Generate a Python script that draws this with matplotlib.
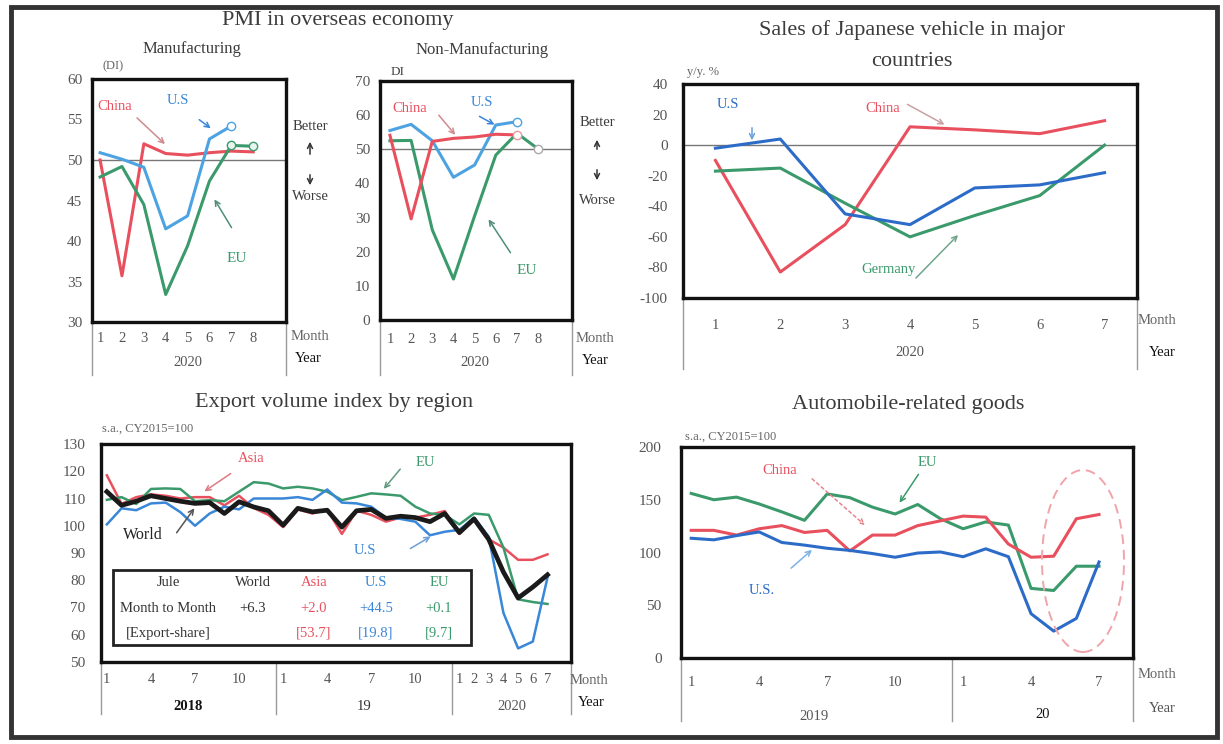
import numpy as np
import matplotlib.pyplot as plt
from matplotlib.patches import Ellipse, FancyArrowPatch, Rectangle
from matplotlib.transforms import blended_transform_factory

plt.rcParams['font.family'] = ['Liberation Serif', 'DejaVu Serif']
plt.rcParams['axes.unicode_minus'] = False

W, H = 1223, 744

RED = '#e8505e'
BLUE = '#3a86d8'
DBLUE = '#2c6cc8'
GREEN = '#3b9a6b'
TXT = '#3c3c3c'
TICK = '#555555'

# ---- PMI (2020) ----
pmi_months = [1, 2, 3, 4, 5, 6, 7, 8]
mfg_china = [50.0, 35.7, 52.0, 50.8, 50.6, 50.9, 51.1, 51.0]
mfg_us = [50.9, 50.1, 49.1, 41.5, 43.1, 52.6, 54.2]
mfg_eu = [47.9, 49.2, 44.5, 33.4, 39.4, 47.4, 51.8, 51.7]
nonmfg_china = [54.1, 29.6, 52.3, 53.2, 53.6, 54.4, 54.2]
nonmfg_us = [55.5, 57.3, 52.5, 41.8, 45.4, 57.1, 58.1]
nonmfg_eu = [52.5, 52.6, 26.4, 12.0, 30.5, 48.3, 54.7, 50.1]

# ---- Sales of Japanese vehicles, y/y % (2020) ----
sales_months = [1, 2, 3, 4, 5, 6, 7]
sales_us = [-2, 4, -45, -52, -28, -26, -18]
sales_china = [-10, -83, -52, 12, 10, 7.5, 16]
sales_germany = [-17, -15, -38, -60, -46, -33, 0]

# ---- Export volume index by region, Jan 2018 - Jul 2020 ----
export_month_labels = ['1', '', '', '4', '', '', '7', '', '', '10', '', '',
                       '1', '', '', '4', '', '', '7', '', '', '10', '', '',
                       '1', '2', '3', '4', '5', '6', '7']
export_world = [112.5, 107.5, 109, 111, 110, 109, 108.2, 108.5, 104.5, 108.8, 106.9, 105.5,
                100.2, 106.4, 105.1, 105.7, 99.5, 105.5, 106, 102.7, 103.5, 103, 101.5, 104.5,
                97.5, 102.5, 95, 83, 73.5, 77.5, 82]
export_asia = [118.5, 108, 110.5, 111.5, 111, 110, 110.5, 110.5, 107.5, 111, 106.5, 104,
               99.5, 106, 104.5, 106, 97, 105.5, 104, 101.5, 103, 103, 104, 105.4,
               97, 102.5, 95, 92, 87.5, 87.5, 89.5]
export_us = [100.5, 106.4, 105.7, 108.2, 108.5, 105, 100, 104.5, 107, 106, 110, 110,
             110, 110.5, 109.5, 113.3, 108.5, 108.2, 107, 103, 102.5, 101.5, 96.5, 97.8,
             98.5, 103, 96, 68, 55, 57.5, 81]
export_eu = [109.5, 110.5, 108, 113.5, 113.7, 113.5, 109, 109.4, 109, 112.5, 116, 115.5,
             113.7, 114.3, 113.7, 112.5, 109.4, 110.6, 111.9, 111.5, 111, 107, 104.5, 104,
             100.5, 104.5, 104, 92, 73, 72, 71.3]

table_cols = ['Jule', 'World', 'Asia', 'U.S', 'EU']
table_mom = ['Month to Month', '+6.3', '+2.0', '+44.5', '+0.1']
table_share = ['[Export-share]', '', '[53.7]', '[19.8]', '[9.7]']

# ---- Automobile-related goods, Jan 2019 - Jul 2020 ----
auto_month_labels = ['1', '', '', '4', '', '', '7', '', '', '10', '', '',
                     '1', '', '', '4', '', '', '7']
auto_us = [113.5, 112, 116, 119.5, 109.5, 107, 104, 102, 99, 95.5, 99.5, 100.5,
           96, 103.5, 96, 42, 25.5, 37.5, 91]
auto_china = [121, 121, 116.5, 122.5, 125.5, 119, 121, 101.5, 116.5, 116.5, 125.5, 130,
              134.5, 133.5, 108, 95.5, 96.5, 132, 136]
auto_eu = [156, 150, 152.5, 146, 138.5, 130.5, 155.5, 152, 143, 136.5, 145.5, 132,
           122.5, 129, 126, 66, 64, 87, 87]

fig = plt.figure(figsize=(W / 100, H / 100), dpi=100)


def px_axes(x0, y0, x1, y1):
    return fig.add_axes([x0 / W, 1 - y1 / H, (x1 - x0) / W, (y1 - y0) / H])


def ftext(x, y, s, **kw):
    kw.setdefault('ha', 'center')
    kw.setdefault('va', 'center')
    kw.setdefault('color', TXT)
    fig.text(x / W, 1 - y / H, s, **kw)


def farrow(x0, y0, x1, y1, color, ls='-'):
    fig.add_artist(FancyArrowPatch((x0 / W, 1 - y0 / H), (x1 / W, 1 - y1 / H),
                                   transform=fig.transFigure, arrowstyle='->',
                                   mutation_scale=9, color=color, lw=1.1, linestyle=ls))


def frame(ax, xlim, ylim, yticks, xticks, xlabels, seps, drop, ypad=7, xpad=6):
    ax.set_xlim(*xlim)
    ax.set_ylim(*ylim)
    ax.set_yticks(yticks)
    ax.set_xticks(xticks)
    ax.set_xticklabels(xlabels)
    for sp in ax.spines.values():
        sp.set_linewidth(2.4)
        sp.set_color('#111111')
    ax.tick_params(axis='y', length=0, pad=ypad, labelsize=11, labelcolor=TICK)
    ax.tick_params(axis='x', length=0, pad=xpad, labelsize=10.5, labelcolor=TICK)
    tr = blended_transform_factory(ax.transData, ax.transAxes)
    for s in list(seps) + list(xlim):
        ax.plot([s, s], [0, -drop], transform=tr, color='#999999', lw=1, clip_on=False)


# outer border
fig.add_artist(Rectangle((11 / W, 1 - 737 / H), 1206 / W, 730 / H, transform=fig.transFigure,
                         fill=False, lw=3.5, ec='#333333'))

# ================= PMI manufacturing =================
ax1 = px_axes(92, 79, 286, 322)
frame(ax1, (0.63, 9.5), (30, 60), range(30, 61, 5), pmi_months, [str(m) for m in pmi_months],
      [], 0.22, xpad=7)
ax1.axhline(50, color='#777777', lw=1)
ax1.plot(pmi_months, mfg_china, color=RED, lw=2.2)
ax1.plot(pmi_months[:len(mfg_us)], mfg_us, color='#4da3e2', lw=2.2, marker='o', markevery=[6],
         mfc='white', ms=6)
ax1.plot(pmi_months, mfg_eu, color=GREEN, lw=2.2, marker='o', markevery=[6, 7], mfc='#e8f4ee', ms=6)

ftext(338, 21, 'PMI in overseas economy', fontsize=16)
ftext(192, 49, 'Manufacturing', fontsize=12)
ftext(113, 66, '(DI)', fontsize=9, color='#666666')
ftext(115, 107, 'China', fontsize=10.5, color=RED)
farrow(135, 116, 167, 146, '#d08a8f')
ftext(178, 101, 'U.S', fontsize=10.5, color=BLUE)
farrow(197, 118, 213, 130, BLUE)
ftext(237, 258, 'EU', fontsize=11, color=GREEN)
farrow(233, 230, 213, 197, '#4f8f76')
ftext(310, 127, 'Better', fontsize=10.5)
farrow(310, 157, 310, 139, '#333333')
farrow(310, 172, 310, 188, '#333333')
ftext(310, 197, 'Worse', fontsize=10.5)
ftext(310, 336, 'Month', fontsize=10.5, color='#666666')
ftext(308, 358, 'Year', fontsize=10.5, color='#111111')
ftext(188, 362, '2020', fontsize=10.5, color='#555555')

# ================= PMI non-manufacturing =================
ax2 = px_axes(380, 81, 572, 320)
frame(ax2, (0.53, 9.6), (0, 70), range(0, 71, 10), pmi_months, [str(m) for m in pmi_months],
      [], 0.23, xpad=9)
ax2.axhline(50, color='#777777', lw=1)
ax2.plot(pmi_months[:len(nonmfg_us)], nonmfg_us, color='#4da3e2', lw=2.2, marker='o',
         markevery=[6], mfc='white', ms=6)
ax2.plot(pmi_months, nonmfg_eu, color=GREEN, lw=2.2, marker='o', markevery=[7],
         mfc='white', mec='#aaaaaa', ms=6)
ax2.plot(pmi_months[:len(nonmfg_china)], nonmfg_china, color=RED, lw=2.2, marker='o',
         markevery=[6], mfc='white', mec='#e69aa0', ms=6)

ftext(482, 50, 'Non-Manufacturing', fontsize=12)
ftext(398, 72, 'DI', fontsize=9.5, color='#444444')
ftext(410, 108, 'China', fontsize=10.5, color=RED)
farrow(437, 113, 457, 137, '#d08a8f')
ftext(482, 102, 'U.S', fontsize=10.5, color=BLUE)
farrow(477, 115, 497, 126, BLUE)
ftext(527, 270, 'EU', fontsize=11, color=GREEN)
farrow(512, 255, 487, 217, '#4f8f76')
ftext(597, 122, 'Better', fontsize=10.5)
farrow(597, 152, 597, 137, '#333333')
farrow(597, 167, 597, 183, '#333333')
ftext(597, 200, 'Worse', fontsize=10.5)
ftext(595, 338, 'Month', fontsize=10.5, color='#666666')
ftext(595, 360, 'Year', fontsize=10.5, color='#111111')
ftext(475, 362, '2020', fontsize=10.5, color='#555555')

# ================= Sales of Japanese vehicles =================
ax3 = px_axes(683, 84, 1137, 298)
frame(ax3, (0.5, 7.5), (-100, 40), range(-100, 41, 20), sales_months,
      [str(m) for m in sales_months], [], 0.33, ypad=11, xpad=15)
ax3.axhline(0, color='#777777', lw=1)
ax3.plot(sales_months, sales_china, color=RED, lw=2.2)
ax3.plot(sales_months, sales_germany, color=GREEN, lw=2.2)
ax3.plot(sales_months, sales_us, color=DBLUE, lw=2.2)

ftext(912, 30, 'Sales of Japanese vehicle in major', fontsize=16)
ftext(912, 62, 'countries', fontsize=16)
ftext(703, 72, 'y/y. %', fontsize=9, color='#666666')
ftext(728, 105, 'U.S', fontsize=10.5, color=DBLUE)
farrow(752, 125, 752, 143, '#6a9fd8')
ftext(883, 108, 'China', fontsize=10.5, color=RED)
farrow(905, 103, 947, 126, '#c9a0a4')
ftext(889, 269, 'Germany', fontsize=10.5, color=GREEN)
farrow(914, 280, 960, 233, '#6fa58c')
ftext(1157, 321, 'Month', fontsize=10.5, color='#666666')
ftext(1162, 352, 'Year', fontsize=10.5, color='#111111')
ftext(910, 353, '2020', fontsize=10.5, color='#555555')

# ================= Export volume index =================
n_exp = len(export_world)
xe = np.arange(n_exp)
ax4 = px_axes(101, 444, 571, 662)
frame(ax4, (-0.4, 31.6), (50, 130), range(50, 131, 10), xe, export_month_labels,
      [11.5, 23.5], 0.24, ypad=11, xpad=8)
ax4.plot(xe, export_asia, color=RED, lw=1.8)
ax4.plot(xe, export_eu, color=GREEN, lw=1.8)
ax4.plot(xe, export_us, color=BLUE, lw=1.8)
ax4.plot(xe, export_world, color='#1a1a1a', lw=3.4)

ftext(334, 403, 'Export volume index by region', fontsize=16)
ftext(148, 429, 's.a., CY2015=100', fontsize=9, color='#666666')
ftext(251, 458, 'Asia', fontsize=10.5, color=RED)
farrow(233, 472, 202, 493, '#e07a84')
ftext(425, 463, 'EU', fontsize=10.5, color=GREEN)
farrow(402, 467, 382, 491, '#5f9a80')
ftext(143, 535, 'World', fontsize=11.5, color='#222222')
farrow(175, 535, 196, 506, '#555555')
ftext(365, 551, 'U.S', fontsize=10.5, color=BLUE)
farrow(408, 550, 433, 535, '#6a9fd8')

# summary table
fig.add_artist(Rectangle((113 / W, 1 - 645 / H), 358 / W, 75 / H, transform=fig.transFigure,
                         fill=True, fc='white', lw=2, ec='#222222'))
col_x = [168, 253, 314, 376, 439]
col_c = ['#333333', '#333333', RED, BLUE, GREEN]
for cx, cc, a, b, c in zip(col_x, col_c, table_cols, table_mom, table_share):
    ftext(cx, 582, a, fontsize=10.5, color=cc)
    ftext(cx, 608, b, fontsize=10.5, color=cc)
    ftext(cx, 633, c, fontsize=10.5, color=cc)

ftext(589, 681, 'Month', fontsize=10.5, color='#666666')
ftext(591, 703, 'Year', fontsize=10.5, color='#111111')
ftext(188, 707, '2018', fontsize=10.5, color='#111111', fontweight='bold')
ftext(364, 707, '19', fontsize=10.5, color='#333333')
ftext(512, 707, '2020', fontsize=10.5, color='#555555')

# ================= Automobile-related goods =================
n_auto = len(auto_us)
xa = np.arange(n_auto)
ax5 = px_axes(681, 447, 1133, 658)
frame(ax5, (-0.45, 19.5), (0, 200), range(0, 201, 50), xa, auto_month_labels,
      [11.5], 0.3, ypad=14, xpad=13)
ax5.plot(xa, auto_eu, color=GREEN, lw=2.2)
ax5.plot(xa, auto_china, color=RED, lw=2.2)
ax5.plot(xa, auto_us, color=DBLUE, lw=2.2)
fig.add_artist(Ellipse((1083 / W, 1 - 561 / H), 82 / W, 182 / H, transform=fig.transFigure,
                       fill=False, ec='#f0a4ab', lw=1.4, ls=(0, (5, 3))))

ftext(908, 405, 'Automobile-related goods', fontsize=16)
ftext(731, 437, 's.a., CY2015=100', fontsize=9, color='#666666')
ftext(780, 470, 'China', fontsize=10.5, color=RED)
farrow(810, 477, 867, 527, '#e8838c', ls=(0, (2, 2)))
ftext(927, 462, 'EU', fontsize=10.5, color=GREEN)
farrow(920, 472, 898, 505, GREEN)
ftext(762, 590, 'U.S.', fontsize=10.5, color=DBLUE)
farrow(789, 570, 814, 548, '#7eb2e2')
ftext(1157, 675, 'Month', fontsize=10.5, color='#666666')
ftext(1162, 708, 'Year', fontsize=10.5, color='#555555')
ftext(814, 717, '2019', fontsize=10.5, color='#555555')
ftext(1043, 715, '20', fontsize=10.5, color='#111111')

fig.savefig('out.png', dpi=100)
